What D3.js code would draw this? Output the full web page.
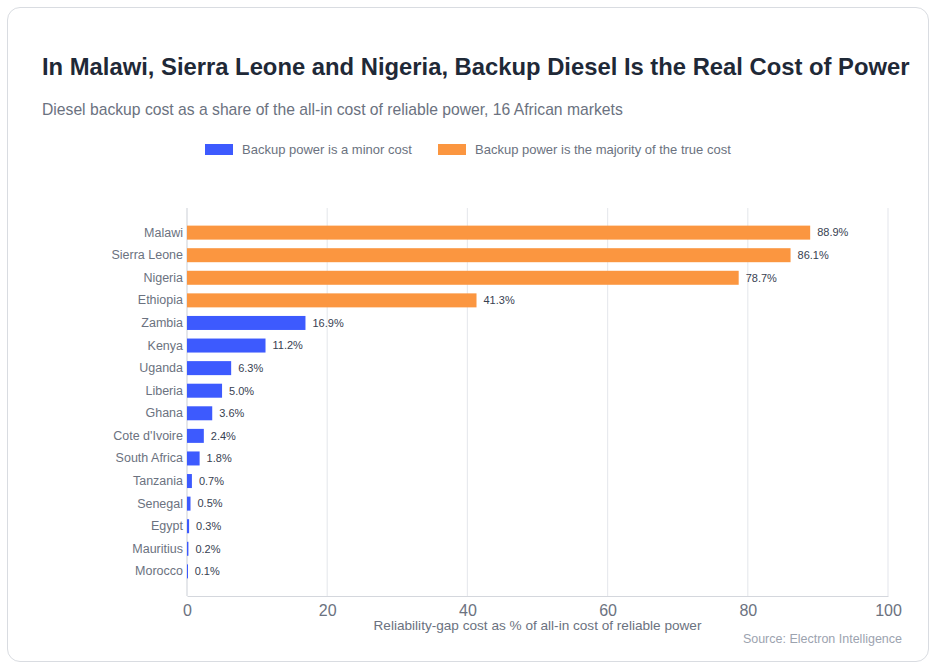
<!DOCTYPE html>
<html>
<head>
<meta charset="utf-8">
<script src="https://cdn.jsdelivr.net/npm/d3@7"></script>
<style>
  body { margin: 0; background: #ffffff; font-family: "Liberation Sans", Arial, sans-serif; }
  #card {
    position: absolute; left: 7px; top: 7px; width: 920px; height: 653px;
    border: 1.5px solid #d9dce1; border-radius: 13px; background: #fff;
  }
</style>
</head>
<body>
<div id="card"></div>
<svg id="chart" width="936" height="670" style="position:absolute;left:0;top:0"></svg>
<script>
// data
const countries = ["Malawi", "Sierra Leone", "Nigeria", "Ethiopia", "Zambia", "Kenya", "Uganda", "Liberia",
  "Ghana", "Cote d'Ivoire", "South Africa", "Tanzania", "Senegal", "Egypt", "Mauritius", "Morocco"];
const shares = [88.9, 86.1, 78.7, 41.3, 16.9, 11.2, 6.3, 5.0, 3.6, 2.4, 1.8, 0.7, 0.5, 0.3, 0.2, 0.1];
const majority = [true, true, true, true, false, false, false, false, false, false, false, false, false, false, false, false];
const xTicks = [0, 20, 40, 60, 80, 100];
const legendLabels = ["Backup power is a minor cost", "Backup power is the majority of the true cost"];
const colors = ["#3d5afe", "#fb9640"];

const svg = d3.select("#chart");
const margin = {left: 187, right: 48, top: 208, bottom: 74};
const W = 936, H = 670;

let rows = countries.map(function(c, i){ return {name: c, v: shares[i], major: majority[i]}; });

let x = d3.scaleLinear().domain([0, 100]).range([margin.left, W - margin.right]);
let y = d3.scaleBand().domain(countries).range([margin.top, H - margin.bottom])
    .paddingInner(0.38).paddingOuter(0.78);

// title + subtitle
svg.append("text").attr("x", 42).attr("y", 75)
    .style("font-size", "23.8px").style("font-weight", "bold").style("fill", "#1f2937")
    .text("In Malawi, Sierra Leone and Nigeria, Backup Diesel Is the Real Cost of Power");
svg.append("text").attr("x", 42).attr("y", 115)
    .style("font-size", "15.7px").style("fill", "#6b7280")
    .text("Diesel backup cost as a share of the all-in cost of reliable power, 16 African markets");

// legend
let legX = [205, 438];
legendLabels.forEach(function(l, i){
    svg.append("rect").attr("x", legX[i]).attr("y", 144).attr("width", 28).attr("height", 11)
        .style("fill", colors[i]);
    svg.append("text").attr("x", legX[i] + 37).attr("y", 154)
        .style("font-size", "13px").style("fill", "#6b7280").text(l);
});

// grid
svg.append("g").selectAll("line").data(xTicks).enter().append("line")
    .attr("x1", function(d){return x(d)}).attr("x2", function(d){return x(d)})
    .attr("y1", margin.top).attr("y2", H - margin.bottom)
    .style("stroke", function(d){return d == 0 ? "#d4d7dd" : "#e8eaee"}).style("stroke-width", 1.2);

// x axis
let xAxis = svg.append("g").attr("transform", "translate(0," + (H - margin.bottom) + ")")
    .call(d3.axisBottom(x).tickValues(xTicks).tickSize(0).tickPadding(9));
xAxis.select(".domain").style("stroke", "#d4d7dd").style("stroke-width", 1.2);
xAxis.selectAll("text").style("font-size", "16px").style("fill", "#6b7280")
    .style("font-family", "Liberation Sans, Arial, sans-serif");

svg.append("text").attr("x", (x(0) + x(100)) / 2).attr("y", 630).attr("text-anchor", "middle")
    .style("font-size", "13.6px").style("fill", "#6b7280")
    .text("Reliability-gap cost as % of all-in cost of reliable power");

// y axis labels
let yAxis = svg.append("g").attr("transform", "translate(" + margin.left + ",0)")
    .call(d3.axisLeft(y).tickSize(0).tickPadding(4));
yAxis.select(".domain").remove();
yAxis.selectAll("text").style("font-size", "12.5px").style("fill", "#6b7280")
    .style("font-family", "Liberation Sans, Arial, sans-serif");

// bars
svg.append("g").selectAll("rect").data(rows).enter().append("rect")
    .attr("x", x(0)).attr("y", function(d){return y(d.name)})
    .attr("width", function(d){return Math.max(x(d.v) - x(0), 1)})
    .attr("height", y.bandwidth())
    .style("fill", function(d){return d.major ? colors[1] : colors[0]});

// value labels
svg.append("g").selectAll("text").data(rows).enter().append("text")
    .attr("x", function(d){return x(d.v) + 7}).attr("y", function(d){return y(d.name) + y.bandwidth() / 2})
    .attr("dy", "0.35em")
    .style("font-size", "11px").style("fill", "#374151")
    .text(function(d){return d.v.toFixed(1) + "%"});

// source
svg.append("text").attr("x", 902).attr("y", 643).attr("text-anchor", "end")
    .style("font-size", "12.5px").style("fill", "#9ca3af")
    .text("Source: Electron Intelligence");
</script>
</body>
</html>
